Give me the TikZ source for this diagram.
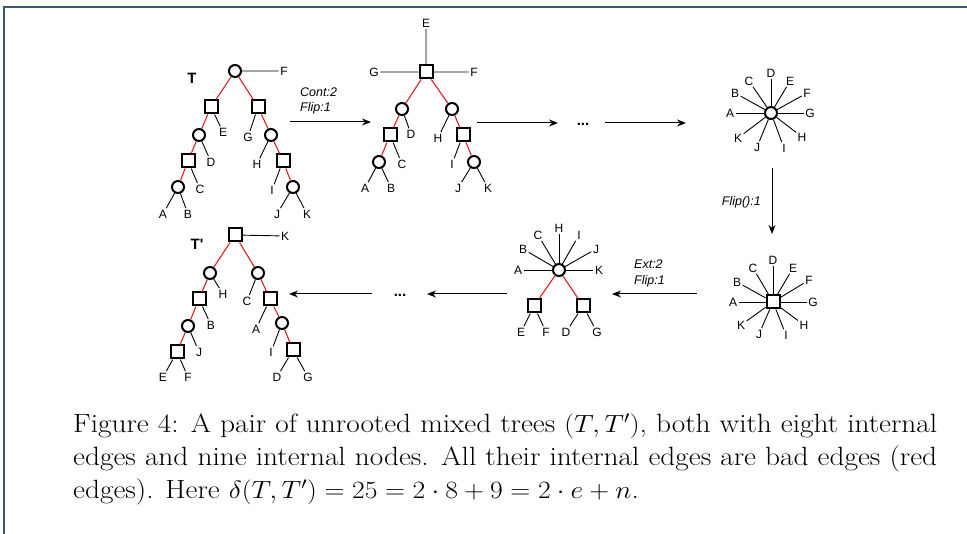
\documentclass[tikz,border=0pt]{standalone}
\usepackage{fontspec}
\newfontfamily\labfont{Liberation Sans}
\usetikzlibrary{arrows.meta}
\definecolor{redge}{RGB}{222,32,32}
\definecolor{framec}{RGB}{60,85,115}
\begin{document}
\begin{tikzpicture}[x=1pt,y=-1pt,
  cnode/.style={circle,draw,line width=2pt,minimum size=12pt,inner sep=0pt},
  snode/.style={rectangle,draw,line width=2pt,minimum size=13pt,inner sep=0pt},
  lf/.style={inner sep=1.5pt,font=\labfont\fontsize{12}{14}\selectfont},
  badedge/.style={draw=redge,line width=1.1pt},
  leafedge/.style={draw=black,line width=0.9pt},
  arr/.style={-{Stealth[length=9pt,width=7pt]},line width=1pt},
  tname/.style={font=\labfont\bfseries\fontsize{15}{17}\selectfont},
  oplab/.style={font=\labfont\itshape\fontsize{12.5}{14}\selectfont,inner sep=0pt},
  dots/.style={font=\labfont\bfseries\fontsize{15}{16}\selectfont,inner sep=0pt}]
\useasboundingbox (0,0) rectangle (967,534);
\draw[framec,line width=1.5pt] (4,534) -- (4,7) -- (967,7);

% ---------- Tree T ----------
\node[tname] (tT) at (192,78) {T};
\node[cnode] (t1) at (235,71) {};
\node[snode] (t2) at (211,107) {};
\node[snode] (t3) at (258,107) {};
\node[cnode] (t4) at (199,135) {};
\node[snode] (t5) at (188,161) {};
\node[cnode] (t6) at (178,187) {};
\node[cnode] (t7) at (271,135) {};
\node[snode] (t8) at (283,161) {};
\node[cnode] (t9) at (293,187) {};
\node[lf] (tF) at (284,71) {F};
\node[lf] (tE) at (223,132) {E};
\node[lf] (tD) at (211,162) {D};
\node[lf] (tC) at (200,189) {C};
\node[lf] (tA) at (163,214) {A};
\node[lf] (tB) at (188,214) {B};
\node[lf] (tG) at (248,137) {G};
\node[lf] (tH) at (257,164) {H};
\node[lf] (tI) at (272,190) {I};
\node[lf] (tJ) at (277,214) {J};
\node[lf] (tK) at (307,214) {K};
\draw[badedge] (t1)--(t2) (t1)--(t3) (t2)--(t4) (t4)--(t5) (t5)--(t6) (t3)--(t7) (t7)--(t8) (t8)--(t9);
\draw[leafedge] (t1)--(tF) (t2)--(tE) (t4)--(tD) (t5)--(tC) (t6)--(tA) (t6)--(tB)
  (t3)--(tG) (t7)--(tH) (t8)--(tI) (t9)--(tJ) (t9)--(tK);

% ---------- Tree 2 ----------
\node[snode] (u1) at (426,72) {};
\node[cnode] (u2) at (402,109) {};
\node[cnode] (u3) at (452,109) {};
\node[snode] (u4) at (390,135) {};
\node[cnode] (u5) at (379,162) {};
\node[snode] (u6) at (463,135) {};
\node[cnode] (u7) at (474,162) {};
\node[lf] (uE) at (426,23) {E};
\node[lf] (uG) at (374,72) {G};
\node[lf] (uF) at (474,72) {F};
\node[lf] (uD) at (411,134) {D};
\node[lf] (uC) at (402,164) {C};
\node[lf] (uA) at (365,188) {A};
\node[lf] (uB) at (391,188) {B};
\node[lf] (uH) at (438,138) {H};
\node[lf] (uI) at (452,164) {I};
\node[lf] (uJ) at (458,188) {J};
\node[lf] (uK) at (488,188) {K};
\draw[badedge] (u1)--(u2) (u1)--(u3) (u2)--(u4) (u4)--(u5) (u3)--(u6) (u6)--(u7);
\draw[leafedge] (u1)--(uE) (u1)--(uG) (u1)--(uF) (u2)--(uD) (u4)--(uC) (u5)--(uA) (u5)--(uB)
  (u3)--(uH) (u6)--(uI) (u7)--(uJ) (u7)--(uK);

% ---------- Star 1 (circle) ----------
\node[cnode] (sa) at (771,113) {};
\foreach \l/\x/\y in {D/771/73,E/790/81,F/807/93,G/810/113,H/802/137,I/784/148,J/757/147,K/738/138,A/730/113,B/735/93,C/749/81}{
  \node[lf] (sa\l) at (\x,\y) {\l};
  \draw[leafedge] (sa) -- (sa\l);
}

% ---------- Star 2 (square) ----------
\node[snode] (sb) at (773,302) {};
\foreach \l/\x/\y in {D/773/260,E/793/268,F/809/280,G/813/302,H/804/325,I/786/335,J/759/334,K/741/325,A/733/302,B/737/282,C/753/268}{
  \node[lf] (sb\l) at (\x,\y) {\l};
  \draw[leafedge] (sb) -- (sb\l);
}

% ---------- Star 3 with two children ----------
\node[cnode] (sc) at (559,270) {};
\node[snode] (sc1) at (534,306) {};
\node[snode] (sc2) at (583,306) {};
\foreach \l/\x/\y in {A/518/270,B/523/249,C/538/235,H/559/228,I/579/235,J/596/249,K/599/270}{
  \node[lf] (sc\l) at (\x,\y) {\l};
  \draw[leafedge] (sc) -- (sc\l);
}
\node[lf] (scE) at (521,332) {E};
\node[lf] (scF) at (546,332) {F};
\node[lf] (scD) at (566,332) {D};
\node[lf] (scG) at (597,332) {G};
\draw[badedge] (sc)--(sc1) (sc)--(sc2);
\draw[leafedge] (sc1)--(scE) (sc1)--(scF) (sc2)--(scD) (sc2)--(scG);

% ---------- Tree T' ----------
\node[tname] (vT) at (197,244) {T'};
\node[snode] (v1) at (235,235) {};
\node[cnode] (v2) at (210,273) {};
\node[cnode] (v3) at (258,273) {};
\node[snode] (v4) at (199,299) {};
\node[cnode] (v5) at (188,326) {};
\node[snode] (v6) at (177,352) {};
\node[snode] (v7) at (270,299) {};
\node[cnode] (v8) at (282,323) {};
\node[snode] (v9) at (293,350) {};
\node[lf] (vK) at (285,236) {K};
\node[lf] (vH) at (223,294) {H};
\node[lf] (vB) at (211,325) {B};
\node[lf] (vJ) at (199,352) {J};
\node[lf] (vE) at (163,377) {E};
\node[lf] (vF) at (188,377) {F};
\node[lf] (vC) at (247,301) {C};
\node[lf] (vA) at (256,329) {A};
\node[lf] (vI) at (271,352) {I};
\node[lf] (vD) at (277,377) {D};
\node[lf] (vG) at (308,377) {G};
\draw[badedge] (v1)--(v2) (v1)--(v3) (v2)--(v4) (v4)--(v5) (v5)--(v6) (v3)--(v7) (v7)--(v8) (v8)--(v9);
\draw[leafedge] (v1)--(vK) (v2)--(vH) (v4)--(vB) (v5)--(vJ) (v6)--(vE) (v6)--(vF)
  (v3)--(vC) (v7)--(vA) (v8)--(vI) (v9)--(vD) (v9)--(vG);

% ---------- Arrows ----------
\coordinate (a1s) at (290,122); \coordinate (a1e) at (371,122);
\draw[arr] (a1s) -- (a1e);
\node[oplab,anchor=west] (l1a) at (300,92) {Cont:2};
\node[oplab,anchor=west] (l1b) at (300,108) {Flip:1};
\coordinate (a2s) at (477,123); \coordinate (a2e) at (558,123);
\draw[arr] (a2s) -- (a2e);
\node[dots] (d1) at (583,124) {...};
\coordinate (a3s) at (605,123); \coordinate (a3e) at (686,123);
\draw[arr] (a3s) -- (a3e);
\coordinate (a4s) at (772,168); \coordinate (a4e) at (772,234);
\draw[arr] (a4s) -- (a4e);
\node[oplab,anchor=east] (l4) at (761,202) {Flip():1};
\coordinate (a5s) at (697,294); \coordinate (a5e) at (612,294);
\draw[arr] (a5s) -- (a5e);
\node[oplab,anchor=west] (l5a) at (634,264) {Ext:2};
\node[oplab,anchor=west] (l5b) at (634,281) {Flip:1};
\coordinate (a6s) at (507,294); \coordinate (a6e) at (427,294);
\draw[arr] (a6s) -- (a6e);
\node[dots] (d2) at (400,295) {...};
\coordinate (a7s) at (372,294); \coordinate (a7e) at (289,294);
\draw[arr] (a7s) -- (a7e);

% ---------- Caption ----------
\node[anchor=base west,inner sep=0pt,font=\fontsize{26.4}{33}\selectfont] (cap) at (73,433)
  {\scalebox{1.11}[1]{\parbox[t]{778.4pt}{\rightskip=0pt\parfillskip=0pt plus 1fil
   Figure 4: A pair of unrooted mixed trees $(T,T')$, both with eight internal\linebreak
   edges and nine internal nodes. All their internal edges are bad edges (red\linebreak
   edges). Here $\delta(T,T')=25=2\cdot 8+9=2\cdot e+n$.}}};
\end{tikzpicture}
\end{document}
